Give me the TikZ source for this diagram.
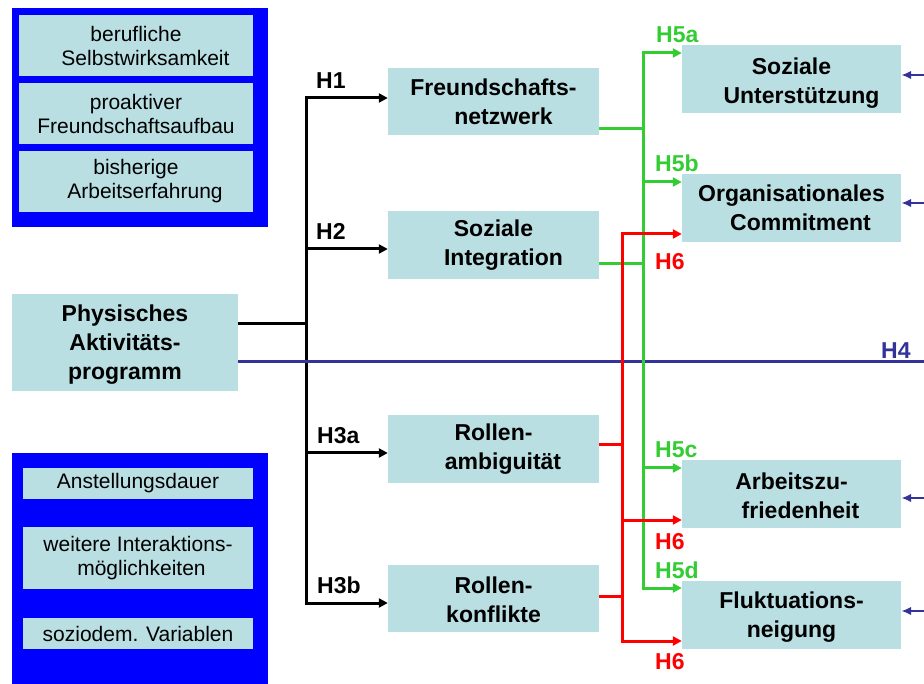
\documentclass[tikz,border=0pt]{standalone}
\usepackage{fontspec}
\setmainfont{Liberation Sans}
\usetikzlibrary{arrows.meta}
\definecolor{boxfill}{RGB}{185,223,227}
\definecolor{grn}{RGB}{51,204,51}
\definecolor{rd}{RGB}{255,0,0}
\definecolor{dblue}{RGB}{51,51,153}
\definecolor{frame}{RGB}{0,0,255}
\begin{document}
\begin{tikzpicture}[x=1pt,y=-1pt,
  box/.style={fill=boxfill, inner sep=0pt},
  btxt/.style={inner sep=0pt, align=center, font=\fontsize{23}{29}\selectfont\bfseries},
  sbox/.style={fill=boxfill, inner sep=0pt, align=center, font=\fontsize{21}{24}\selectfont},
  panel/.style={fill=frame, draw=none, inner sep=0pt},
  lbl/.style={anchor=base west, inner sep=0pt, font=\fontsize{23}{28}\selectfont\bfseries},
  blk/.style={line width=3pt, draw=black},
  grl/.style={line width=3pt, draw=grn},
  rdl/.style={line width=3pt, draw=rd},
  tip/.style={-{Triangle[length=9pt,width=9pt]}},
  barr/.style={line width=2.5pt, draw=dblue, -{Latex[length=10pt,width=8.5pt]}}
]
\useasboundingbox (0,0) rectangle (924,684);
% panels
\node[panel, minimum width=256pt, minimum height=219pt] (ptop) at (140,117.5) {};
\node[panel, minimum width=256pt, minimum height=231pt] (pbot) at (140,568.5) {};
% left small boxes
\node[sbox, minimum width=234pt, minimum height=61pt] (lb1) at (136,45.5) {berufliche\\\hspace*{19pt}Selbstwirksamkeit};
\node[sbox, minimum width=234pt, minimum height=61pt] (lb2) at (136,113.5) {proaktiver\\Freundschaftsaufbau};
\node[sbox, minimum width=234pt, minimum height=61pt] (lb3) at (136,181.5) {bisherige\\\hspace*{18pt}Arbeitserfahrung};
\node[sbox, minimum width=230pt, minimum height=31pt] (bb1) at (138,483.5) {Anstellungsdauer};
\node[sbox, minimum width=230pt, minimum height=62pt] (bb2) at (138,558) {weitere Interaktions-\\\hspace*{7pt}möglichkeiten};
\node[sbox, minimum width=230pt, minimum height=31pt] (bb3) at (138,633.5) {soziodem. Variablen};
% main boxes
\node[box, minimum width=226pt, minimum height=97pt,
  label={[btxt, yshift=-2pt]center:{Physisches\\Aktivitäts-\\programm}}] (phys) at (125,342.5) {};
\node[box, minimum width=211pt, minimum height=67pt,
  label={[btxt]center:{Freundschafts-\\\hspace*{20pt}netzwerk}}] (fn) at (493.5,101.5) {};
\node[box, minimum width=211pt, minimum height=68pt,
  label={[btxt]center:{Soziale\\\hspace*{20pt}Integration}}] (si) at (493.5,245) {};
\node[box, minimum width=211pt, minimum height=68pt,
  label={[btxt]center:{Rollen-\\\hspace*{19pt}ambiguität}}] (ra) at (493.5,449) {};
\node[box, minimum width=211pt, minimum height=67pt,
  label={[btxt, yshift=-1pt]center:{Rollen-\\konflikte}}] (rk) at (493.5,598.5) {};
\node[box, minimum width=219pt, minimum height=68pt,
  label={[btxt, yshift=-4pt]center:{Soziale\\\hspace*{20pt}Unterstützung}}] (su) at (791.5,79) {};
\node[box, minimum width=219pt, minimum height=68pt,
  label={[btxt]center:{Organisationales\\\hspace*{18pt}Commitment}}] (oc) at (791.5,208) {};
\node[box, minimum width=219pt, minimum height=68pt,
  label={[btxt, yshift=-2pt]center:{Arbeitszu-\\\hspace*{18pt}friedenheit}}] (az) at (791.5,494) {};
\node[box, minimum width=219pt, minimum height=68pt,
  label={[btxt, yshift=-2pt]center:{Fluktuations-\\neigung}}] (fl) at (791.5,615) {};
% coordinates
\coordinate (bt1) at (306,98);
\coordinate (bt2) at (306,249);
\coordinate (bm) at (306,324);
\coordinate (bt3) at (306,453);
\coordinate (bt4) at (306,603);
\coordinate (h4e) at (924,362);
\coordinate (g1) at (643,53);
\coordinate (g2) at (643,182);
\coordinate (gf) at (643,129);
\coordinate (gs) at (643,264);
\coordinate (g3) at (643,468);
\coordinate (g4) at (643,588);
\coordinate (r1) at (622,234);
\coordinate (ra1) at (622,445);
\coordinate (r2) at (622,520);
\coordinate (rk1) at (622,596);
\coordinate (r3) at (622,641);
\coordinate (e1) at (924,75);
\coordinate (e2) at (924,203);
\coordinate (e3) at (924,498);
\coordinate (e4) at (924,611);
% black connectors
\draw[blk] (bm -| phys.east) -- (bm);
\draw[blk, line cap=rect] (bt1) -- (bt4);
\draw[blk, tip] (bt1) -- (bt1 -| fn.west);
\draw[blk, tip] (bt2) -- (bt2 -| si.west);
\draw[blk, tip] (bt3) -- (bt3 -| ra.west);
\draw[blk, tip] (bt4) -- (bt4 -| rk.west);
% H4
\draw[line width=3pt, draw=dblue] (h4e -| phys.east) -- (h4e);
% green
\draw[grl] (gf -| fn.east) -- (gf);
\draw[grl] (gs -| si.east) -- (gs);
\draw[grl, line cap=rect] (g1) -- (g4);
\draw[grl, tip] (g1) -- (g1 -| su.west);
\draw[grl, tip] (g2) -- (g2 -| oc.west);
\draw[grl, tip] (g3) -- (g3 -| az.west);
\draw[grl, tip] (g4) -- (g4 -| fl.west);
% red
\draw[rdl] (ra1 -| ra.east) -- (ra1);
\draw[rdl] (rk1 -| rk.east) -- (rk1);
\draw[rdl, line cap=rect] (r1) -- (r3);
\draw[rdl, tip] (r1) -- (r1 -| oc.west);
\draw[rdl, tip] (r2) -- (r2 -| az.west);
\draw[rdl, tip] (r3) -- (r3 -| fl.west);
% blue arrows from right
\draw[barr] (e1) -- (e1 -| su.east);
\draw[barr] (e2) -- (e2 -| oc.east);
\draw[barr] (e3) -- (e3 -| az.east);
\draw[barr] (e4) -- (e4 -| fl.east);
% labels
\node[lbl] (lh1) at (316,89) {H1};
\node[lbl] (lh2) at (316,240) {H2};
\node[lbl] (lh3a) at (317,443) {H3a};
\node[lbl] (lh3b) at (317,593) {H3b};
\node[lbl, text=dblue] (lh4) at (881,359) {H4};
\node[lbl, text=grn] (lh5a) at (656,43) {H5a};
\node[lbl, text=grn] (lh5b) at (655,172) {H5b};
\node[lbl, text=grn] (lh5c) at (655,457) {H5c};
\node[lbl, text=grn] (lh5d) at (655,578) {H5d};
\node[lbl, text=rd] (lh6a) at (655,270) {H6};
\node[lbl, text=rd] (lh6b) at (655,549) {H6};
\node[lbl, text=rd] (lh6c) at (655,669) {H6};
\end{tikzpicture}
\end{document}
